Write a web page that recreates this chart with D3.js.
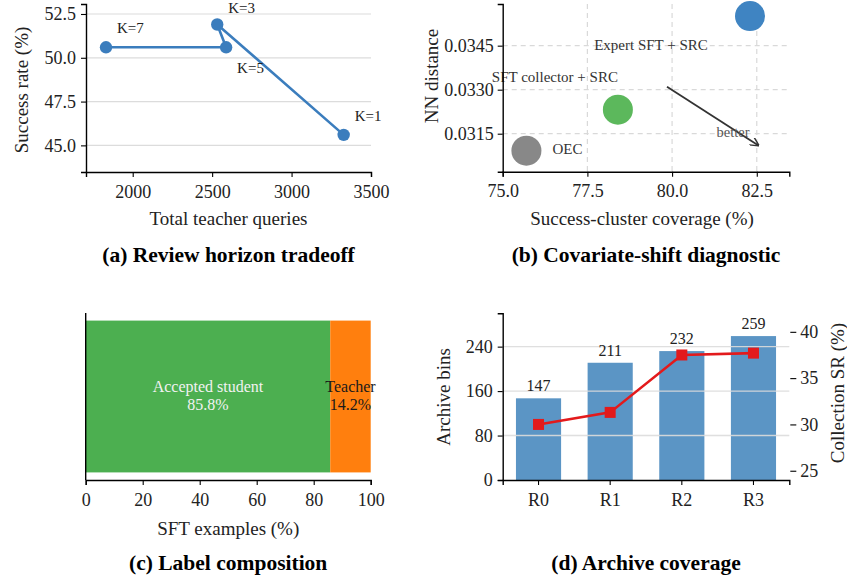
<!DOCTYPE html>
<html>
<head>
<meta charset="utf-8">
<script src="https://cdn.jsdelivr.net/npm/d3@7"></script>
<style>
  body { margin: 0; background: #fff; }
  svg text { font-family: "Liberation Serif", "Times New Roman", serif; }
</style>
</head>
<body>
<svg id="chart" width="847" height="577"></svg>
<script>
// ---------- data ----------
// (a) Review horizon tradeoff
const horizonK = ["K=7", "K=5", "K=3", "K=1"];
const horizonQueries = [1832, 2588, 2532, 3328];
const horizonSuccess = [50.6, 50.6, 51.9, 45.6];
const aXTicks = [2000, 2500, 3000, 3500];
const aYTicks = [45.0, 47.5, 50.0, 52.5];

// (b) Covariate-shift diagnostic
const methods = ["OEC", "SFT collector + SRC", "Expert SFT + SRC"];
const methodCoverage = [75.7, 78.4, 82.3];
const methodNN = [0.03092, 0.03232, 0.03551];
const methodColors = ["#888888", "#5cb85c", "#3f84c2"];
const bXTicks = [75.0, 77.5, 80.0, 82.5];
const bYTicks = [0.0315, 0.0330, 0.0345];

// (c) Label composition
const labelSources = ["Accepted student", "Teacher"];
const labelShares = [85.8, 14.2];
const labelColors = ["#4caf50", "#ff7f0e"];
const cXTicks = [0, 20, 40, 60, 80, 100];

// (d) Archive coverage
const rounds = ["R0", "R1", "R2", "R3"];
const archiveBins = [147, 211, 232, 259];
const collectionSR = [30.0, 31.3, 37.5, 37.7];
const dLeftTicks = [0, 80, 160, 240];
const dRightTicks = [25, 30, 35, 40];

// ---------- helpers ----------
const svg = d3.select("#chart");
const TICK_FS = 18, LABEL_FS = 19, TITLE_FS = 21.5, ANN_FS = 15;

function styleAxis(g, showDomain = true) {
  g.attr("font-family", null);
  g.selectAll("text").attr("font-size", TICK_FS).attr("fill", "#222")
    .style("font-family", "'Liberation Serif', 'Times New Roman', serif");
  g.selectAll("line").attr("stroke", "#000").attr("stroke-width", 1.1);
  g.select(".domain").attr("stroke", "#000").attr("stroke-width", 1.4)
    .attr("display", showDomain ? null : "none");
}
function title(x, y, t) {
  svg.append("text").attr("x", x).attr("y", y).attr("text-anchor", "middle")
    .attr("font-size", TITLE_FS).attr("font-weight", "bold").attr("fill", "#000").text(t);
}
function xLabel(x, y, t) {
  svg.append("text").attr("x", x).attr("y", y).attr("text-anchor", "middle")
    .attr("font-size", LABEL_FS).attr("fill", "#222").text(t);
}
function yLabel(x, y, t) {
  svg.append("text").attr("transform", `translate(${x},${y}) rotate(-90)`)
    .attr("text-anchor", "middle").attr("dy", "0.35em")
    .attr("font-size", LABEL_FS).attr("fill", "#222").text(t);
}

// ---------- (a) ----------
{
  const L = 86, R = 371, T = 4, B = 172;
  const x = d3.scaleLinear().domain([1706, 3500]).range([L, R]);
  const y = d3.scaleLinear().domain([43.48, 53.07]).range([B, T]);
  const g = svg.append("g");
  g.selectAll("line.grid").data(aYTicks).join("line")
    .attr("x1", L).attr("x2", R).attr("y1", d => y(d)).attr("y2", d => y(d))
    .attr("stroke", "#dcdcdc").attr("stroke-width", 1.2);
  const pts = horizonK.map((k, i) => ({k, q: horizonQueries[i], s: horizonSuccess[i]}));
  g.append("path").datum(pts)
    .attr("d", d3.line().x(d => x(d.q)).y(d => y(d.s)))
    .attr("fill", "none").attr("stroke", "#3b7dbd").attr("stroke-width", 2.6);
  g.selectAll("circle").data(pts).join("circle")
    .attr("cx", d => x(d.q)).attr("cy", d => y(d.s)).attr("r", 6.2).attr("fill", "#3b7dbd");
  g.selectAll("text.ann").data(pts).join("text")
    .attr("x", d => x(d.q) + 11)
    .attr("y", d => y(d.s) + (d.k === "K=5" ? 26 : d.k === "K=3" ? -12 : -14))
    .attr("font-size", ANN_FS).attr("fill", "#222").text(d => d.k);
  const ax = svg.append("g").attr("transform", `translate(0,${B})`)
    .call(d3.axisBottom(x).tickValues(aXTicks).tickFormat(d3.format("d")).tickSizeOuter(0).tickSize(5).tickPadding(8));
  styleAxis(ax);
  const ay = svg.append("g").attr("transform", `translate(${L},0)`)
    .call(d3.axisLeft(y).tickValues(aYTicks).tickFormat(d3.format(".1f")).tickSizeOuter(0).tickSize(5).tickPadding(5));
  styleAxis(ay);
  xLabel((L + R) / 2, 225, "Total teacher queries");
  yLabel(21, 90, "Success rate (%)");
  title((L + R) / 2, 262, "(a) Review horizon tradeoff");
}

// ---------- (b) ----------
{
  const L = 502.7, R = 789.3, T = 4, B = 171.7;
  const x = d3.scaleLinear().domain([75, 83.46]).range([L, R]);
  const y = d3.scaleLinear().domain([0.030205, 0.03592]).range([B, T]);
  const g = svg.append("g");
  g.selectAll("line.gx").data(bXTicks.filter(d => d > 75)).join("line")
    .attr("x1", d => x(d)).attr("x2", d => x(d)).attr("y1", T).attr("y2", B)
    .attr("stroke", "#d9d9d9").attr("stroke-width", 1.2).attr("stroke-dasharray", "5,4");
  g.selectAll("line.gy").data(bYTicks).join("line")
    .attr("x1", L).attr("x2", R).attr("y1", d => y(d)).attr("y2", d => y(d))
    .attr("stroke", "#d9d9d9").attr("stroke-width", 1.2).attr("stroke-dasharray", "5,4");
  const pts = methods.map((m, i) => ({m, c: methodCoverage[i], n: methodNN[i], col: methodColors[i]}));
  g.selectAll("circle").data(pts).join("circle")
    .attr("cx", d => x(d.c)).attr("cy", d => y(d.n)).attr("r", 15).attr("fill", d => d.col);
  const labOff = {"OEC": [26, 3, "start"], "SFT collector + SRC": [-63, -28, "middle"], "Expert SFT + SRC": [-99, 34, "middle"]};
  g.selectAll("text.ann").data(pts).join("text")
    .attr("x", d => x(d.c) + labOff[d.m][0]).attr("y", d => y(d.n) + labOff[d.m][1])
    .attr("text-anchor", d => labOff[d.m][2])
    .attr("font-size", ANN_FS).attr("fill", "#333").text(d => d.m);
  svg.append("defs").append("marker").attr("id", "arr").attr("viewBox", "0 0 10 10")
    .attr("refX", 9).attr("refY", 5).attr("markerWidth", 9).attr("markerHeight", 9)
    .attr("orient", "auto").attr("markerUnits", "userSpaceOnUse")
    .append("path").attr("d", "M0,0 L10,5 L0,10").attr("fill", "none").attr("stroke", "#333").attr("stroke-width", 1.6);
  g.append("line")
    .attr("x1", x(79.85)).attr("y1", y(0.03310))
    .attr("x2", x(82.55)).attr("y2", y(0.03110))
    .attr("stroke", "#333").attr("stroke-width", 1.8).attr("marker-end", "url(#arr)");
  g.append("text").attr("x", x(81.8)).attr("y", y(0.03140)).attr("text-anchor", "middle")
    .attr("font-size", ANN_FS - 0.5).attr("fill", "#555").text("better");
  const ax = svg.append("g").attr("transform", `translate(0,${B})`)
    .call(d3.axisBottom(x).tickValues(bXTicks).tickFormat(d3.format(".1f")).tickSizeOuter(0).tickSize(5).tickPadding(8));
  styleAxis(ax);
  const ay = svg.append("g").attr("transform", `translate(${L},0)`)
    .call(d3.axisLeft(y).tickValues(bYTicks).tickFormat(d3.format(".4f")).tickSizeOuter(0).tickSize(5).tickPadding(4));
  styleAxis(ay);
  xLabel(642, 225, "Success-cluster coverage (%)");
  yLabel(431, 76, "NN distance");
  title((L + R) / 2, 262, "(b) Covariate-shift diagnostic");
}

// ---------- (c) ----------
{
  const L = 85.7, R = 370.7, T = 313, B = 480;
  const x = d3.scaleLinear().domain([0, 100]).range([L, R]);
  const y = d3.scaleLinear().domain([-0.55, 0.55]).range([B, T]);
  const segs = [];
  let acc = 0;
  labelSources.forEach((s, i) => { segs.push({s, v: labelShares[i], x0: acc, x1: acc + labelShares[i], col: labelColors[i]}); acc += labelShares[i]; });
  const g = svg.append("g");
  g.selectAll("rect").data(segs).join("rect")
    .attr("x", d => x(d.x0)).attr("width", d => x(d.x1) - x(d.x0))
    .attr("y", y(0.5)).attr("height", y(-0.5) - y(0.5)).attr("fill", d => d.col);
  const txt = g.selectAll("text.seg").data(segs).join("text")
    .attr("x", d => x((d.x0 + d.x1) / 2)).attr("y", y(0) - 5)
    .attr("text-anchor", "middle").attr("font-size", ANN_FS + 1)
    .attr("fill", (d, i) => i === 0 ? "#f2f2f2" : "#1a1a1a");
  txt.append("tspan").attr("x", d => x((d.x0 + d.x1) / 2)).text(d => d.s);
  txt.append("tspan").attr("x", d => x((d.x0 + d.x1) / 2)).attr("dy", 18).text(d => d.v.toFixed(1) + "%");
  const ax = svg.append("g").attr("transform", `translate(0,${B})`)
    .call(d3.axisBottom(x).tickValues(cXTicks).tickFormat(d3.format("d")).tickSizeOuter(0).tickSize(5).tickPadding(8));
  styleAxis(ax);
  svg.append("line").attr("x1", L).attr("x2", L).attr("y1", T).attr("y2", B)
    .attr("stroke", "#000").attr("stroke-width", 1.4);
  xLabel((L + R) / 2, 535, "SFT examples (%)");
  title((L + R) / 2, 570, "(c) Label composition");
}

// ---------- (d) ----------
{
  const L = 502.7, R = 789.3, T = 313.3, B = 480;
  const x = d3.scaleBand().domain(rounds).range([L, R]).paddingInner(0.37).paddingOuter(0.185);
  const yl = d3.scaleLinear().domain([0, 300]).range([B, T]);
  const yr = d3.scaleLinear().domain([24, 42]).range([B, T]);
  const g = svg.append("g");
  g.selectAll("rect").data(rounds).join("rect")
    .attr("x", d => x(d)).attr("width", x.bandwidth())
    .attr("y", (d, i) => yl(archiveBins[i])).attr("height", (d, i) => B - yl(archiveBins[i]))
    .attr("fill", "#5b95c5");
  g.selectAll("line.grid").data(dLeftTicks.filter(d => d > 0)).join("line")
    .attr("x1", L).attr("x2", R).attr("y1", d => yl(d)).attr("y2", d => yl(d))
    .attr("stroke", "#dcdcdc").attr("stroke-width", 1.4).attr("opacity", 0.9);
  g.selectAll("text.val").data(rounds).join("text")
    .attr("x", d => x(d) + x.bandwidth() / 2).attr("y", (d, i) => yl(archiveBins[i]) - 7)
    .attr("text-anchor", "middle").attr("font-size", ANN_FS + 1).attr("fill", "#222")
    .text((d, i) => archiveBins[i]);
  const pts = rounds.map((r, i) => ({r, v: collectionSR[i]}));
  g.append("path").datum(pts)
    .attr("d", d3.line().x(d => x(d.r) + x.bandwidth() / 2).y(d => yr(d.v)))
    .attr("fill", "none").attr("stroke", "#e31a1c").attr("stroke-width", 2.6);
  g.selectAll("rect.mk").data(pts).join("rect").attr("class", "mk")
    .attr("x", d => x(d.r) + x.bandwidth() / 2 - 5.5).attr("y", d => yr(d.v) - 5.5)
    .attr("width", 11).attr("height", 11).attr("fill", "#e31a1c");
  const ax = svg.append("g").attr("transform", `translate(0,${B})`)
    .call(d3.axisBottom(x).tickSizeOuter(0).tickSize(5).tickPadding(8));
  styleAxis(ax);
  const ay = svg.append("g").attr("transform", `translate(${L},0)`)
    .call(d3.axisLeft(yl).tickValues(dLeftTicks).tickFormat(d3.format("d")).tickSizeOuter(0).tickSize(5).tickPadding(5));
  styleAxis(ay);
  const ayr = svg.append("g").attr("transform", `translate(${R},0)`)
    .call(d3.axisRight(yr).tickValues(dRightTicks).tickFormat(d3.format("d")).tickSizeOuter(0).tickSize(6).tickPadding(5));
  styleAxis(ayr, false);
  ayr.selectAll(".tick line").attr("transform", "translate(1,0)");
  yLabel(443, 397, "Archive bins");
  yLabel(837, 393, "Collection SR (%)");
  title((L + R) / 2, 570, "(d) Archive coverage");
}
</script>
</body>
</html>
